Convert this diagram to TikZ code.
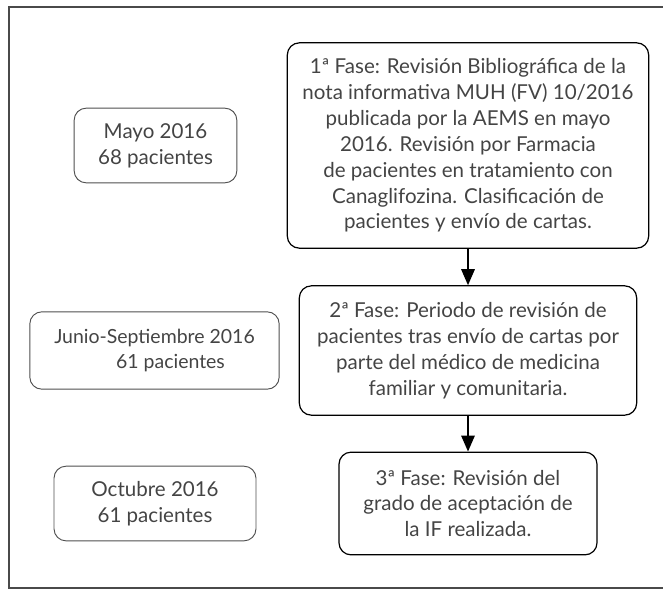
\documentclass[tikz,border=0pt]{standalone}
\usepackage{fontspec}
\setmainfont{Lato}
\usetikzlibrary{arrows.meta}
\definecolor{textgray}{HTML}{444444}
\definecolor{framegray}{HTML}{4A4A4A}
\definecolor{boxgray}{HTML}{4F4F4F}
\begin{document}
\begin{tikzpicture}[x=0.75pt, y=-0.75pt]

    \tikzset{fasestyle/.style={draw=black, line width=0.9pt, rounded corners=9pt, align=center, text=textgray, inner sep=0pt, font=\fontsize{15.4}{19.4}\selectfont}}
    \tikzset{fechastyle/.style={fasestyle, draw=boxgray, line width=0.7pt}}

    \useasboundingbox (0,0) rectangle (663,590);
    \draw[framegray, line width=1.5pt] (9,7) rectangle (672,588);

    % Fases
    \node[fasestyle, minimum width=271pt, minimum height=154pt] (fase1) at (468,145.5) {1ª Fase: Revisión Bibliográfica de la\\nota informativa MUH (FV) 10/2016\\publicada por la AEMS en mayo\\2016. Revisión por Farmacia\\de pacientes en tratamiento con\\Canaglifozina. Clasificación de\\pacientes y envío de cartas.};
    \node[fasestyle, minimum width=253pt, minimum height=97pt] (fase2) at (468,350.5) {2ª Fase: Periodo de revisión de\\pacientes tras envío de cartas por\\parte del médico de medicina\\familiar y comunitaria.};
    \node[fasestyle, minimum width=193.5pt, minimum height=77pt] (fase3) at (468,503.5) {3ª Fase: Revisión del\\grado de aceptación de\\la IF realizada.};

    % Fechas
    \node[fechastyle, minimum width=122pt, minimum height=56pt] (mayo) at (155.5,145.5) {Mayo 2016\\68 pacientes};
    \node[fechastyle, minimum width=187pt, minimum height=58pt, font=\fontsize{14.6}{19.4}\selectfont] (junio) at (154.5,350.5) {Junio-Septiembre 2016\\\kern24pt 61 pacientes};
    \node[fechastyle, minimum width=151.5pt, minimum height=56pt] (octubre) at (155,503.5) {Octubre 2016\\61 pacientes};

    \begin{scope}[every path/.style={line width=1.5pt, -{Triangle[width=10pt,length=12pt]}}]
        \draw (fase1) -- (fase2);
        \draw (fase2) -- (fase3);
    \end{scope}

\end{tikzpicture}
\end{document}
